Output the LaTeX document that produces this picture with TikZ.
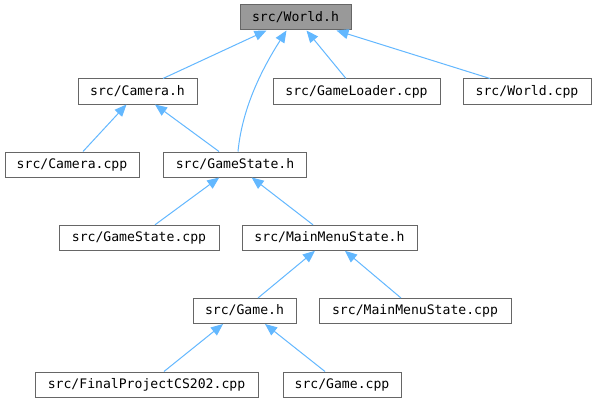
\documentclass[tikz,border=0pt]{standalone}
\usepackage{fontspec}
\setmonofont{DejaVu Sans Mono}
\usetikzlibrary{arrows.meta}
\definecolor{edgeblue}{HTML}{63B8FF}
\definecolor{boxborder}{HTML}{666666}
\definecolor{boxfill}{HTML}{999999}
\begin{document}
\begin{tikzpicture}[x=0.75pt,y=-0.75pt,
  box/.style={draw=boxborder,line width=0.75pt,fill=white,inner sep=0pt,
    minimum height=18.75pt,text height=7.2pt,text depth=1.9pt,
    font=\ttfamily\fontsize{9.84}{11}\selectfont},
  rootbox/.style={box,fill=boxfill},
  dep/.style={draw=edgeblue,line width=0.75pt,-{Triangle[length=9pt,width=7.5pt]}}]
\useasboundingbox[fill=white] (0,0) rectangle (596,403);
\node[rootbox,minimum width=83.25pt] (world) at (295.5,17.5) {src/World.h};
\node[box,minimum width=89.25pt] (camh) at (137.5,91.5) {src/Camera.h};
\node[box,minimum width=125.25pt] (loader) at (356.5,91.5) {src/GameLoader.cpp};
\node[box,minimum width=96pt] (worldcpp) at (527,91.5) {src/World.cpp};
\node[box,minimum width=100.5pt] (camcpp) at (72,164.5) {src/Camera.cpp};
\node[box,minimum width=107.25pt] (gsh) at (235,164.5) {src/GameState.h};
\node[box,minimum width=120pt] (gscpp) at (139,237.8) {src/GameState.cpp};
\node[box,minimum width=131.25pt] (mmsh) at (329.5,237.8) {src/MainMenuState.h};
\node[box,minimum width=77.25pt] (gameh) at (244.5,311) {src/Game.h};
\node[box,minimum width=144pt] (mmscpp) at (415,311) {src/MainMenuState.cpp};
\node[box,minimum width=167.25pt] (final) at (146.5,384.5) {src/FinalProjectCS202.cpp};
\node[box,minimum width=88.5pt] (gamecpp) at (342,384.5) {src/Game.cpp};
% edges
\draw[dep] ([xshift=19.1pt]camh.north) -- ([xshift=-21.75pt]world.south);
\draw[dep] ([xshift=2.25pt]gsh.north) .. controls (242,110) and (260,72) .. ([xshift=-6.75pt]world.south);
\draw[dep] ([xshift=-7.9pt]loader.north) -- ([xshift=8.25pt]world.south);
\draw[dep] ([xshift=-27.75pt]worldcpp.north) -- ([xshift=30.75pt]world.south);
\draw[dep] ([xshift=8.25pt]camcpp.north) -- ([xshift=-8.25pt]camh.south);
\draw[dep] ([xshift=-12pt]gsh.north) -- ([xshift=13.1pt]camh.south);
\draw[dep] ([xshift=12pt]gscpp.north) -- ([xshift=-11.8pt]gsh.south);
\draw[dep] ([xshift=-12.4pt]mmsh.north) -- ([xshift=12.5pt]gsh.south);
\draw[dep] ([xshift=10.1pt]gameh.north) -- ([xshift=-10.9pt]mmsh.south);
\draw[dep] ([xshift=-10.5pt]mmscpp.north) -- ([xshift=11.6pt]mmsh.south);
\draw[dep] ([xshift=13.1pt]final.north) -- ([xshift=-16.1pt]gameh.south);
\draw[dep] ([xshift=-12.75pt]gamecpp.north) -- ([xshift=15.4pt]gameh.south);
\end{tikzpicture}
\end{document}
